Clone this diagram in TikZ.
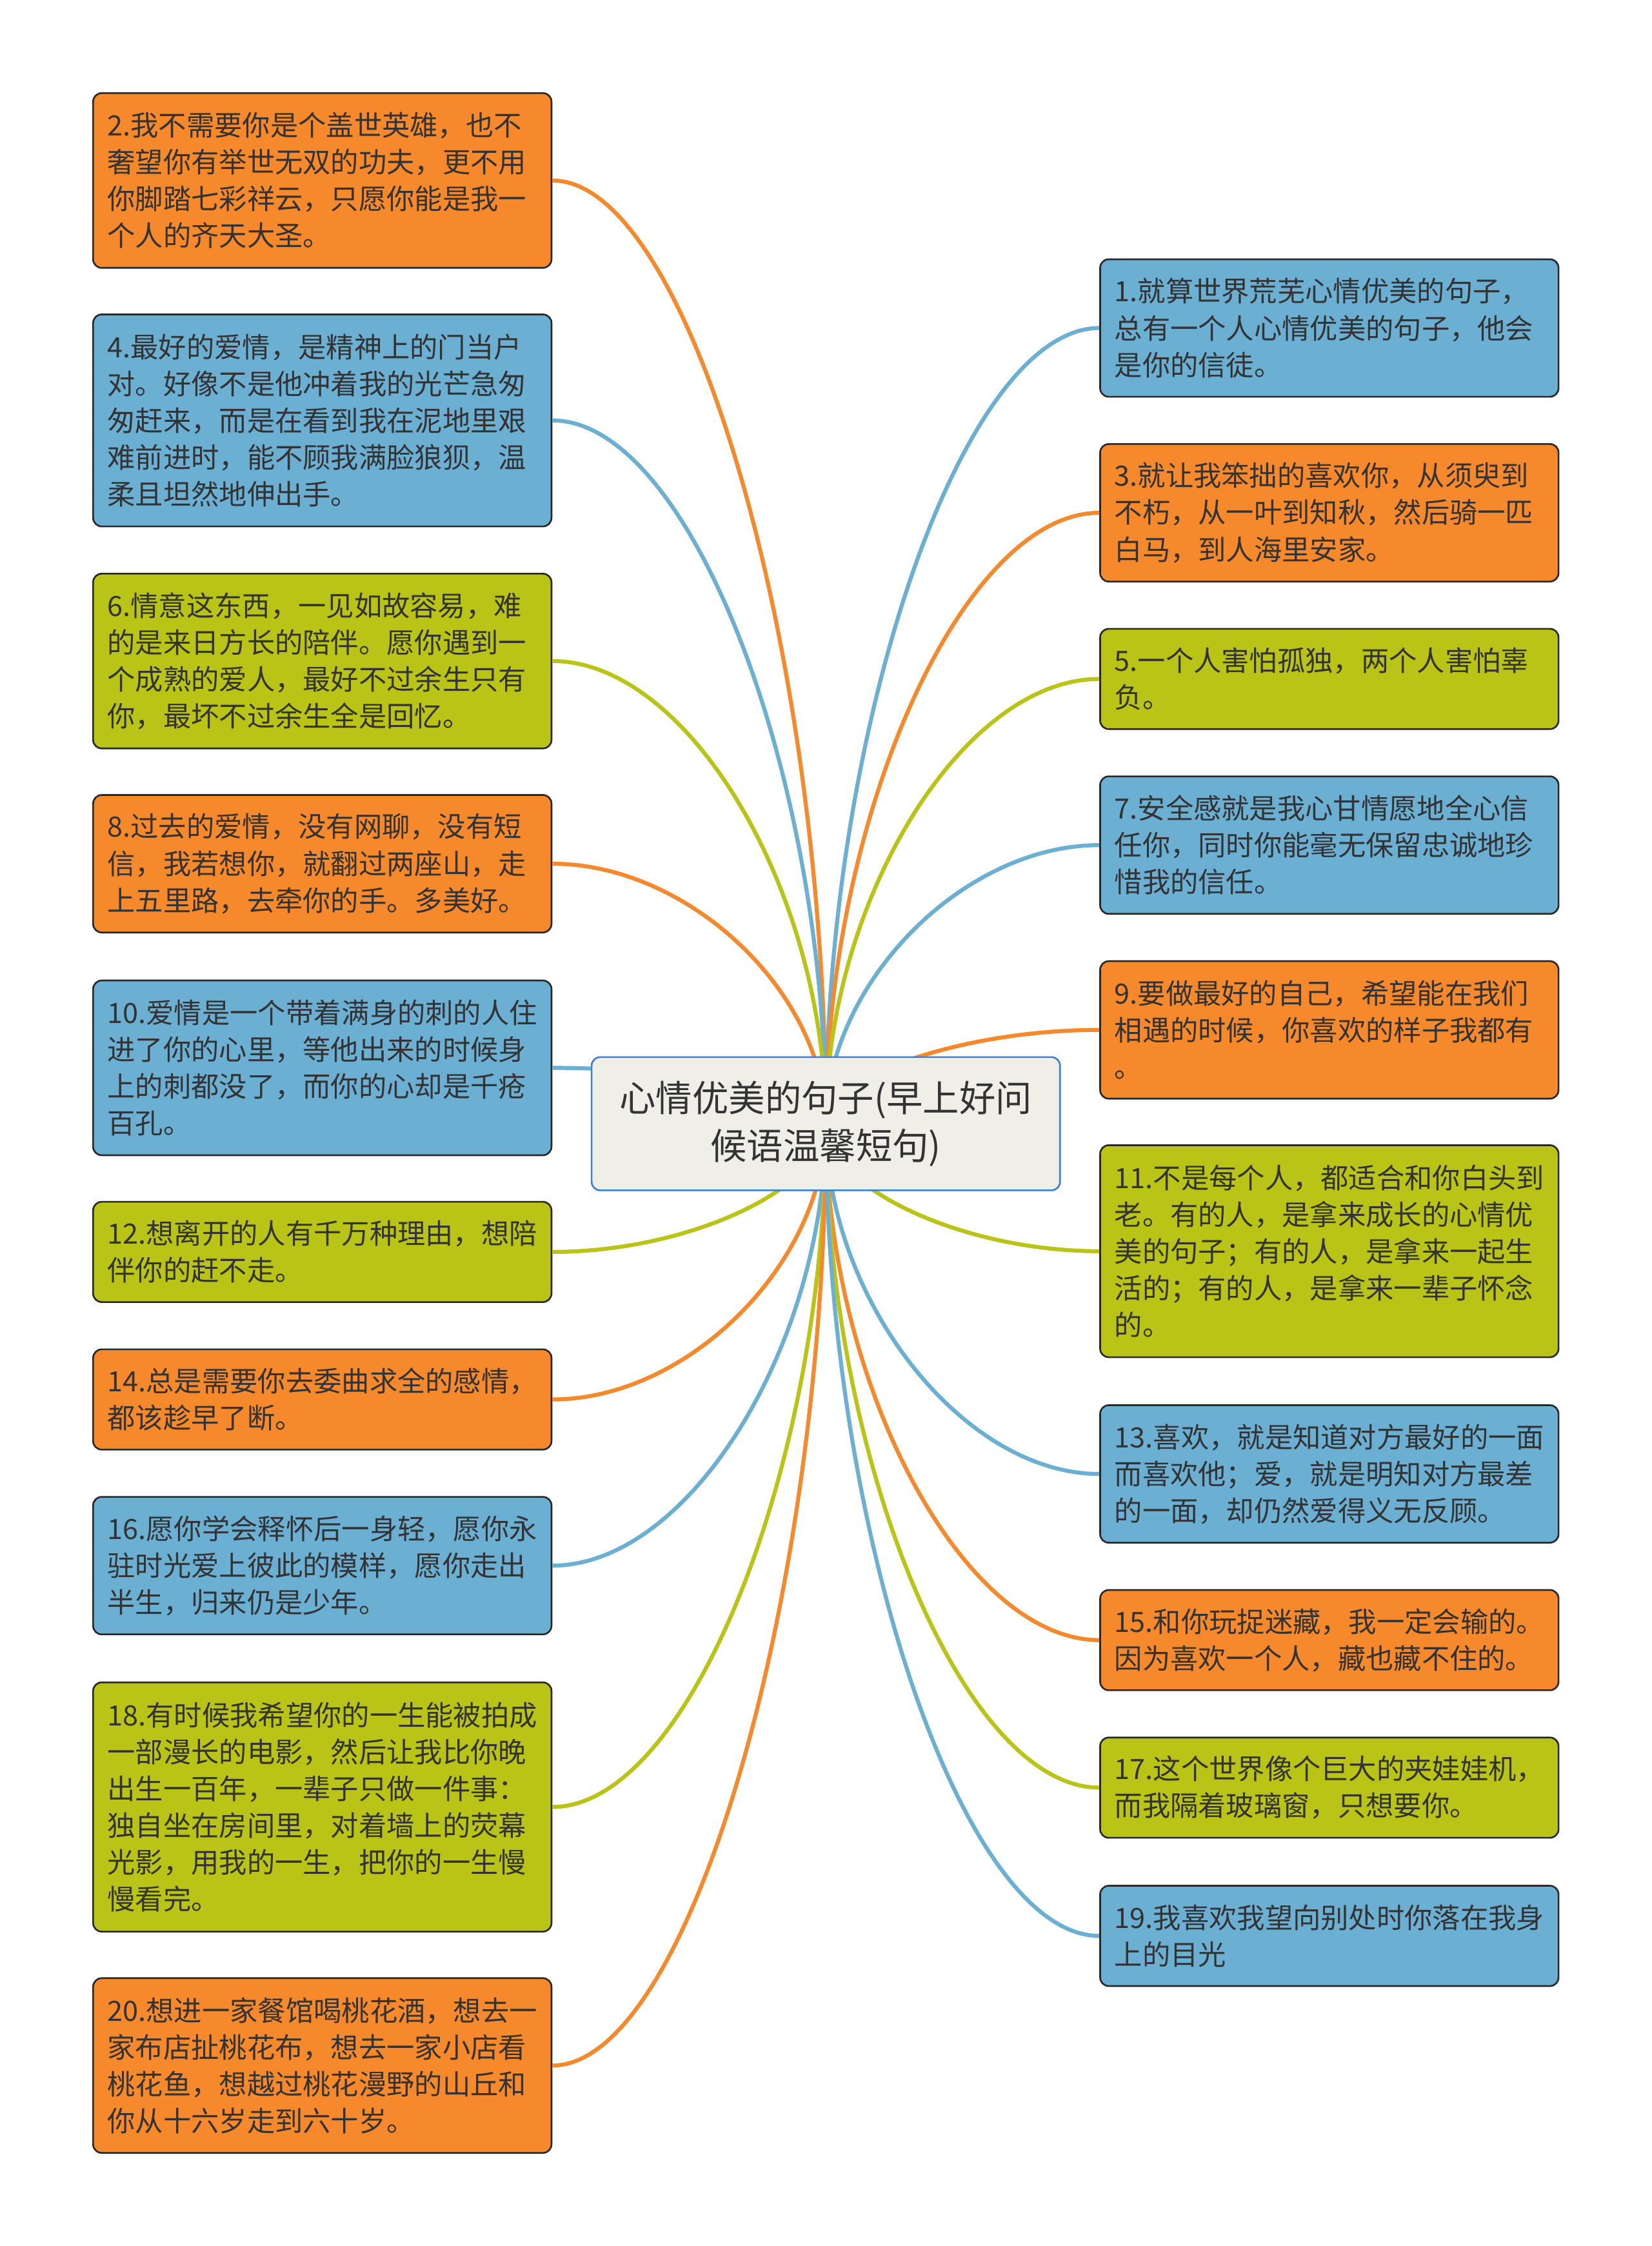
\documentclass[tikz,border=0pt]{standalone}
\usepackage{fontspec}
\usepackage{xcolor}
\usepackage{tikz}
\usetikzlibrary{calc}
\newfontfamily\cjk{Noto Sans CJK SC}
\definecolor{leaforange}{RGB}{245,137,44}
\definecolor{leafblue}{RGB}{107,175,211}
\definecolor{leafgreen}{RGB}{186,196,22}
\definecolor{hubfill}{RGB}{239,239,232}
\definecolor{hubline}{RGB}{60,127,215}
\definecolor{inkgray}{RGB}{51,51,51}
\definecolor{boxline}{RGB}{40,40,40}

\tikzset{
  leaf/.style={draw=boxline, line width=0.6pt, rounded corners=3pt,
    text width=150pt, inner xsep=5pt, inner ysep=0pt, align=left,
    minimum height={9pt+13pt*#1}, text=inkgray,
    font=\cjk\fontsize{9.75}{12.85}\selectfont},
  hubbox/.style={draw=hubline, line width=0.6pt, fill=hubfill, rounded corners=3pt,
    minimum width=163.5pt, minimum height=46.5pt, align=center, text=inkgray,
    font=\cjk\fontsize{12.7}{16.5}\selectfont},
  link/.style={line width=1.4pt}
}

\begin{document}
\begin{tikzpicture}[x=0.5pt,y=-0.5pt]
  \fill[white] (0,0) rectangle (1153,1568);
  \useasboundingbox (0,0) rectangle (1153,1568);
  \coordinate (hubc) at (576.5,784.5);

  % Left branch
  \node[leaf=4,fill=leaforange] (l2) at (225,126)
    {2.我不需要你是个盖世英雄，也不\\奢望你有举世无双的功夫，更不用\\你脚踏七彩祥云，只愿你能是我一\\个人的齐天大圣。};
  \node[leaf=5,fill=leafblue] (l4) at (225,293.5)
    {4.最好的爱情，是精神上的门当户\\对。好像不是他冲着我的光芒急匆\\匆赶来，而是在看到我在泥地里艰\\难前进时，能不顾我满脸狼狈，温\\柔且坦然地伸出手。};
  \node[leaf=4,fill=leafgreen] (l6) at (225,461.5)
    {6.情意这东西，一见如故容易，难\\的是来日方长的陪伴。愿你遇到一\\个成熟的爱人，最好不过余生只有\\你，最坏不过余生全是回忆。};
  \node[leaf=3,fill=leaforange] (l8) at (225,603)
    {8.过去的爱情，没有网聊，没有短\\信，我若想你，就翻过两座山，走\\上五里路，去牵你的手。多美好。};
  \node[leaf=4,fill=leafblue] (l10) at (225,745.5)
    {10.爱情是一个带着满身的刺的人住\\进了你的心里，等他出来的时候身\\上的刺都没了，而你的心却是千疮\\百孔。};
  \node[leaf=2,fill=leafgreen] (l12) at (225,874)
    {12.想离开的人有千万种理由，想陪\\伴你的赶不走。};
  \node[leaf=2,fill=leaforange] (l14) at (225,977)
    {14.总是需要你去委曲求全的感情，\\都该趁早了断。};
  \node[leaf=3,fill=leafblue] (l16) at (225,1093)
    {16.愿你学会释怀后一身轻，愿你永\\驻时光爱上彼此的模样，愿你走出\\半生，归来仍是少年。};
  \node[leaf=6,fill=leafgreen] (l18) at (225,1261.5)
    {18.有时候我希望你的一生能被拍成\\一部漫长的电影，然后让我比你晚\\出生一百年，一辈子只做一件事：\\独自坐在房间里，对着墙上的荧幕\\光影，用我的一生，把你的一生慢\\慢看完。};
  \node[leaf=4,fill=leaforange] (l20) at (225,1442)
    {20.想进一家餐馆喝桃花酒，想去一\\家布店扯桃花布，想去一家小店看\\桃花鱼，想越过桃花漫野的山丘和\\你从十六岁走到六十岁。};

  % Right branch
  \node[leaf=3,fill=leafblue] (r1) at (928,229)
    {1.就算世界荒芜心情优美的句子，\\总有一个人心情优美的句子，他会\\是你的信徒。};
  \node[leaf=3,fill=leaforange] (r3) at (928,358)
    {3.就让我笨拙的喜欢你，从须臾到\\不朽，从一叶到知秋，然后骑一匹\\白马，到人海里安家。};
  \node[leaf=2,fill=leafgreen] (r5) at (928,474)
    {5.一个人害怕孤独，两个人害怕辜\\负。};
  \node[leaf=3,fill=leafblue] (r7) at (928,590)
    {7.安全感就是我心甘情愿地全心信\\任你，同时你能毫无保留忠诚地珍\\惜我的信任。};
  \node[leaf=3,fill=leaforange] (r9) at (928,719)
    {9.要做最好的自己，希望能在我们\\相遇的时候，你喜欢的样子我都有\\。};
  \node[leaf=5,fill=leafgreen] (r11) at (928,873.5)
    {11.不是每个人，都适合和你白头到\\老。有的人，是拿来成长的心情优\\美的句子；有的人，是拿来一起生\\活的；有的人，是拿来一辈子怀念\\的。};
  \node[leaf=3,fill=leafblue] (r13) at (928,1029)
    {13.喜欢，就是知道对方最好的一面\\而喜欢他；爱，就是明知对方最差\\的一面，却仍然爱得义无反顾。};
  \node[leaf=2,fill=leaforange] (r15) at (928,1145)
    {15.和你玩捉迷藏，我一定会输的。\\因为喜欢一个人，藏也藏不住的。};
  \node[leaf=2,fill=leafgreen] (r17) at (928,1248)
    {17.这个世界像个巨大的夹娃娃机，\\而我隔着玻璃窗，只想要你。};
  \node[leaf=2,fill=leafblue] (r19) at (928,1351.5)
    {19.我喜欢我望向别处时你落在我身\\上的目光};

  % Curved links from the hub
  \foreach \n/\c in {l2/leaforange,l4/leafblue,l6/leafgreen,l8/leaforange,l10/leafblue,
      l12/leafgreen,l14/leaforange,l16/leafblue,l18/leafgreen,l20/leaforange}{
    \path ($(hubc)!.5!(\n.east)$) coordinate (m);
    \draw[link,draw=\c] (hubc) .. controls (hubc |- m) and (m |- \n.east) .. (\n.east);
  }
  \foreach \n/\c in {r1/leafblue,r3/leaforange,r5/leafgreen,r7/leafblue,r9/leaforange,
      r11/leafgreen,r13/leafblue,r15/leaforange,r17/leafgreen,r19/leafblue}{
    \path ($(hubc)!.5!(\n.west)$) coordinate (m);
    \draw[link,draw=\c] (hubc) .. controls (hubc |- m) and (m |- \n.west) .. (\n.west);
  }

  % Central topic
  \node[hubbox] (hub) at (hubc) {心情优美的句子(早上好问\\候语温馨短句)};
\end{tikzpicture}
\end{document}
